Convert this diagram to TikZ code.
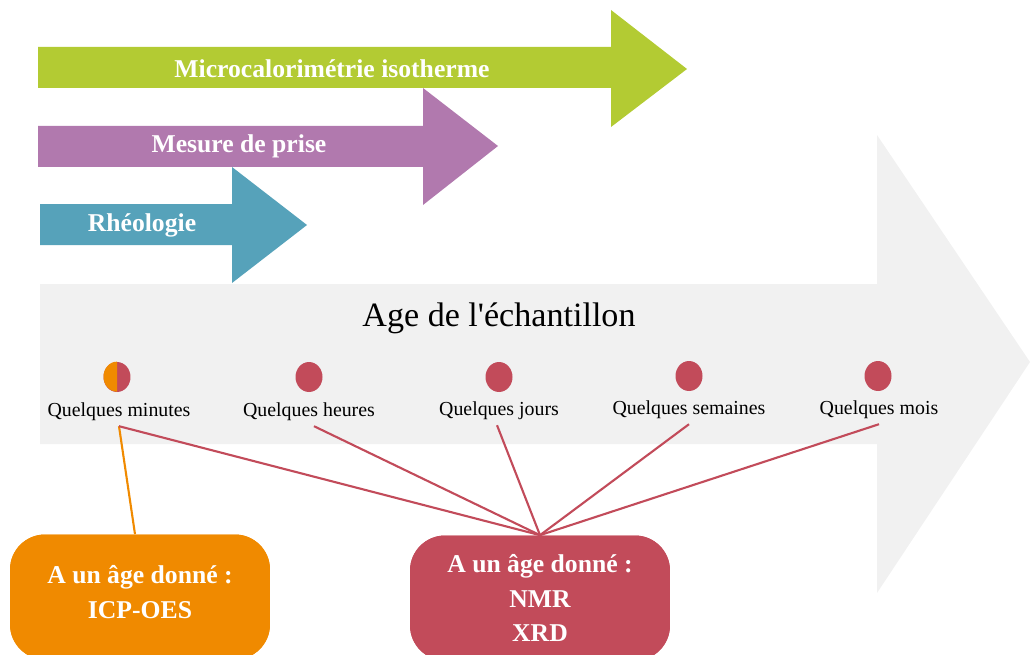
\documentclass[tikz,border=0pt]{standalone}
\usepackage{fontspec}
\setmainfont{Liberation Serif}
\usetikzlibrary{shapes.geometric,calc}
\definecolor{cgreen}{HTML}{B3CB33}
\definecolor{cpurple}{HTML}{B179AE}
\definecolor{cteal}{HTML}{56A2BA}
\definecolor{cgray}{HTML}{F1F1F1}
\definecolor{cred}{HTML}{C24B5A}
\definecolor{corange}{HTML}{F08A00}
\begin{document}
\begin{tikzpicture}[x=0.02cm,y=-0.02cm,
  title/.style={text=white,font=\fontsize{14.6}{17}\selectfont\bfseries,anchor=base,inner sep=0pt},
  dot/.style={ellipse,fill=cred,minimum width=0.54cm,minimum height=0.6cm,inner sep=0pt},
  lbl/.style={font=\fontsize{11.3}{13}\selectfont,anchor=base,inner sep=3.2pt},
  box/.style={rounded corners=0.7cm,minimum width=5.2cm,minimum height=2.5cm,text=white,align=center,font=\fontsize{14.6}{19.8}\selectfont\bfseries},
  link/.style={line width=1.2pt}]
\path[use as bounding box] (0,0) rectangle (1030,655);
\begin{scope}
\clip (0,0) rectangle (1030,655);
% big gray arrow
\fill[cgray] (40,284) -- (877,284) -- (877,135) -- (1030,362) -- (877,593) -- (877,444) -- (40,444) -- cycle;
% technique arrows
\fill[cgreen] (38,47) -- (611,47) -- (611,10) -- (687,69) -- (611,127) -- (611,88) -- (38,88) -- cycle;
\fill[cpurple] (38,126) -- (423,126) -- (423,88) -- (498,146) -- (423,205) -- (423,167) -- (38,167) -- cycle;
\fill[cteal] (40,204) -- (232,204) -- (232,167) -- (307,225) -- (232,283) -- (232,245) -- (40,245) -- cycle;
\node[title] (t1) at (332,78) {Microcalorimétrie isotherme};
\node[title] (t2) at (239,153) {Mesure de prise};
\node[title] (t3) at (142,232) {Rhéologie};
% age
\node[font=\fontsize{19.4}{22}\selectfont,anchor=base,inner sep=0pt] (age) at (499,326) {Age de l\textquotesingle échantillon};
% dots
\node[dot] (d1) at (117,377) {};
\fill[corange] (d1.north) arc[start angle=90,end angle=270,x radius=0.27cm,y radius=0.3cm] -- cycle;
\node[dot] (d2) at (309,377) {};
\node[dot] (d3) at (499,377) {};
\node[dot] (d4) at (689,376) {};
\node[dot] (d5) at (878,376) {};
% labels
\node[lbl] (l1) at (119,416) {Quelques minutes};
\node[lbl] (l2) at (309,416) {Quelques heures};
\node[lbl] (l3) at (499,415) {Quelques jours};
\node[lbl] (l4) at (689,414) {Quelques semaines};
\node[lbl] (l5) at (879,414) {Quelques mois};
% boxes (placed first for names)
\path (140,597) node[box,fill=corange,text depth=6pt] (boxO) {A un âge donné :\\ICP-OES};
\path (540,598) node[box,fill=cred] (boxR) {A un âge donné :\\NMR\\XRD};
% links
\draw[link,corange] (l1.south) -- ($(boxO.north)+(-5,0)$);
\draw[link,cred] (l1.south) -- (boxR.north);
\draw[link,cred] ($(l2.south)+(5,0)$) -- (boxR.north);
\draw[link,cred] ($(l3.south)+(-2,0)$) -- (boxR.north);
\draw[link,cred] (l4.south) -- (boxR.north);
\draw[link,cred] (l5.south) -- (boxR.north);
% redraw boxes on top
\path (140,597) node[box,fill=corange,text depth=6pt] {A un âge donné :\\ICP-OES};
\path (540,598) node[box,fill=cred] {A un âge donné :\\NMR\\XRD};
\end{scope}
\end{tikzpicture}
\end{document}
